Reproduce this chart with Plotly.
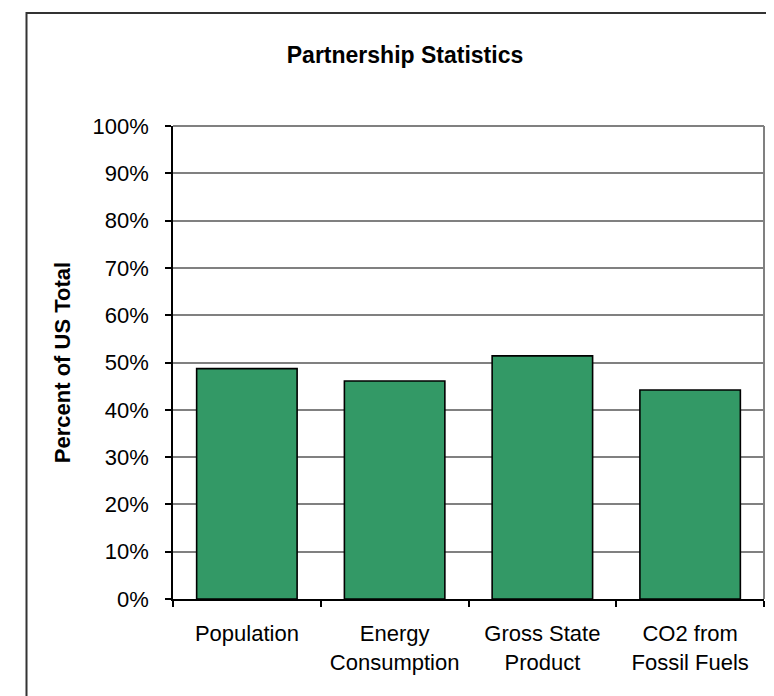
import plotly.graph_objects as go

categories = ["Population", "Energy<br>Consumption", "Gross State<br>Product", "CO2 from<br>Fossil Fuels"]
values = [48.7, 46.1, 51.4, 44.2]
y_ticks = [0, 10, 20, 30, 40, 50, 60, 70, 80, 90, 100]
y_tick_labels = [f"{v}%" for v in y_ticks]

W, H = 774, 696
L, R, T, B = 165, 756, 118, 591
pw, ph = R - L, B - T

def px_x(x):
    return (x - L) / pw

def px_y(y):
    return (B - y) / ph

fig = go.Figure()
fig.add_trace(go.Bar(
    x=categories, y=values, width=0.68,
    marker=dict(color="#339966", line=dict(color="#000000", width=1.6)),
    hoverinfo="skip",
))

font_family = "Arial, Liberation Sans, sans-serif"

fig.update_layout(
    width=W, height=H,
    margin=dict(l=L, r=W - R, t=T, b=H - B, pad=0),
    paper_bgcolor="white", plot_bgcolor="white",
    showlegend=False,
    font=dict(family=font_family, size=22, color="black"),
    title=dict(text="<b>Partnership Statistics</b>", x=397 / W, xanchor="center",
               y=1 - 47 / H, yanchor="middle",
               font=dict(family=font_family, size=23, color="black")),
)

fig.update_yaxes(
    range=[0, 100], tickvals=y_ticks, ticktext=y_tick_labels,
    showgrid=True, gridcolor="#808080", gridwidth=1.8,
    showline=True, linecolor="black", linewidth=1.5,
    ticks="outside", ticklen=6, tickcolor="black", tickwidth=1.5,
    ticklabelstandoff=12,
    zeroline=False,
    title=dict(text="<b>Percent of US Total</b>", font=dict(family=font_family, size=22), standoff=16),
    tickfont=dict(family=font_family, size=22),
    fixedrange=True,
)
fig.update_xaxes(
    showline=True, linecolor="black", linewidth=1.5,
    ticks="outside", ticklen=6, tickcolor="black", tickwidth=1.5,
    tickson="boundaries", showgrid=False,
    tickfont=dict(family=font_family, size=22),
    ticklabelstandoff=14,
    fixedrange=True,
)

# gray plot-area frame on top and right
fig.add_shape(type="line", xref="paper", yref="paper", x0=0, x1=1, y0=1, y1=1,
              line=dict(color="#808080", width=2), layer="above")
fig.add_shape(type="line", xref="paper", yref="paper", x0=1, x1=1, y0=0, y1=1,
              line=dict(color="#808080", width=2), layer="above")
# outer chart border
fig.add_shape(type="rect", xref="paper", yref="paper",
              x0=px_x(18.5), x1=px_x(790), y0=px_y(710), y1=px_y(5),
              line=dict(color="#333333", width=2), layer="below")

fig.write_html("out.html", config={"displayModeBar": False})
